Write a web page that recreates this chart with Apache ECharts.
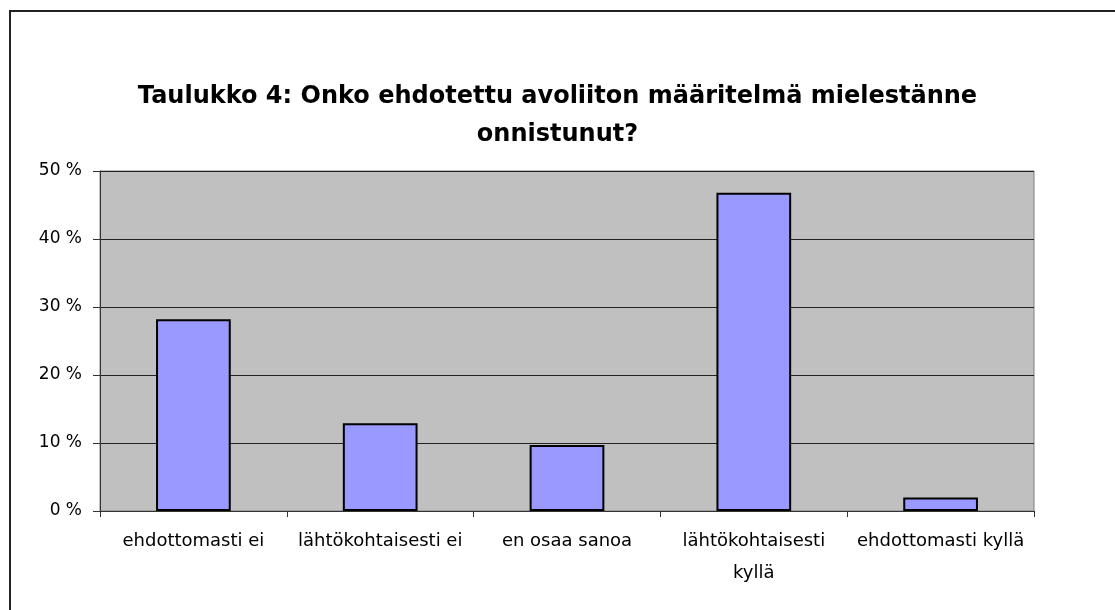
<!DOCTYPE html>
<html>
<head>
<meta charset="utf-8">
<title>Taulukko 4</title>
<script src="https://cdn.jsdelivr.net/npm/echarts@6/dist/echarts.min.js"></script>
<style>
  html, body { margin: 0; padding: 0; background: #fff; }
  #chart { width: 1115px; height: 610px; }
</style>
</head>
<body>
<div id="chart"></div>
<script>
  // vastausvaihtoehdot
  const categories = ['ehdottomasti ei', 'lähtökohtaisesti ei', 'en osaa sanoa', 'lähtökohtaisesti\nkyllä', 'ehdottomasti kyllä'];
  // osuudet prosentteina
  const shares = [28.2, 12.9, 9.7, 46.8, 2.0];
  const yTicks = { min: 0, max: 50, interval: 10 };
  const titleText = 'Taulukko 4: Onko ehdotettu avoliiton määritelmä mielestänne\nonnistunut?';

  const chart = echarts.init(document.getElementById('chart'));
  chart.setOption({
    animation: false,
    backgroundColor: '#ffffff',
    textStyle: { fontFamily: 'DejaVu Sans', color: '#000' },
    graphic: [{
      type: 'rect',
      shape: { x: 10, y: 11, width: 1300, height: 800 },
      style: { fill: 'none', stroke: '#222', lineWidth: 2 },
      silent: true
    }],
    title: {
      text: titleText,
      left: 'center',
      top: 73,
      textStyle: {
        fontFamily: 'DejaVu Sans',
        fontWeight: 'bold',
        fontSize: 24,
        lineHeight: 38,
        color: '#000'
      }
    },
    grid: {
      left: 100, right: 81, top: 171, bottom: 99,
      show: true,
      backgroundColor: '#c0c0c0',
      borderColor: '#808080',
      borderWidth: 1
    },
    xAxis: {
      type: 'category',
      data: categories,
      axisLine: { lineStyle: { color: '#333', width: 1 } },
      axisTick: { show: true, length: 6, lineStyle: { color: '#333' } },
      axisLabel: {
        margin: 14,
        fontSize: 18,
        lineHeight: 32,
        color: '#000',
        interval: 0
      }
    },
    yAxis: {
      type: 'value',
      min: yTicks.min,
      max: yTicks.max,
      interval: yTicks.interval,
      axisLine: { show: true, lineStyle: { color: '#333', width: 1 } },
      axisTick: { show: true, length: 7, lineStyle: { color: '#333' } },
      splitLine: { lineStyle: { color: '#222', width: 1 } },
      axisLabel: {
        formatter: '{value} %',
        margin: 18,
        fontSize: 17,
        color: '#000'
      }
    },
    series: [{
      type: 'bar',
      data: shares,
      barCategoryGap: '60%',
      itemStyle: { color: '#9999ff', borderColor: '#000', borderWidth: 2 }
    }]
  });
  window.addEventListener('resize', () => chart.resize());
</script>
</body>
</html>
